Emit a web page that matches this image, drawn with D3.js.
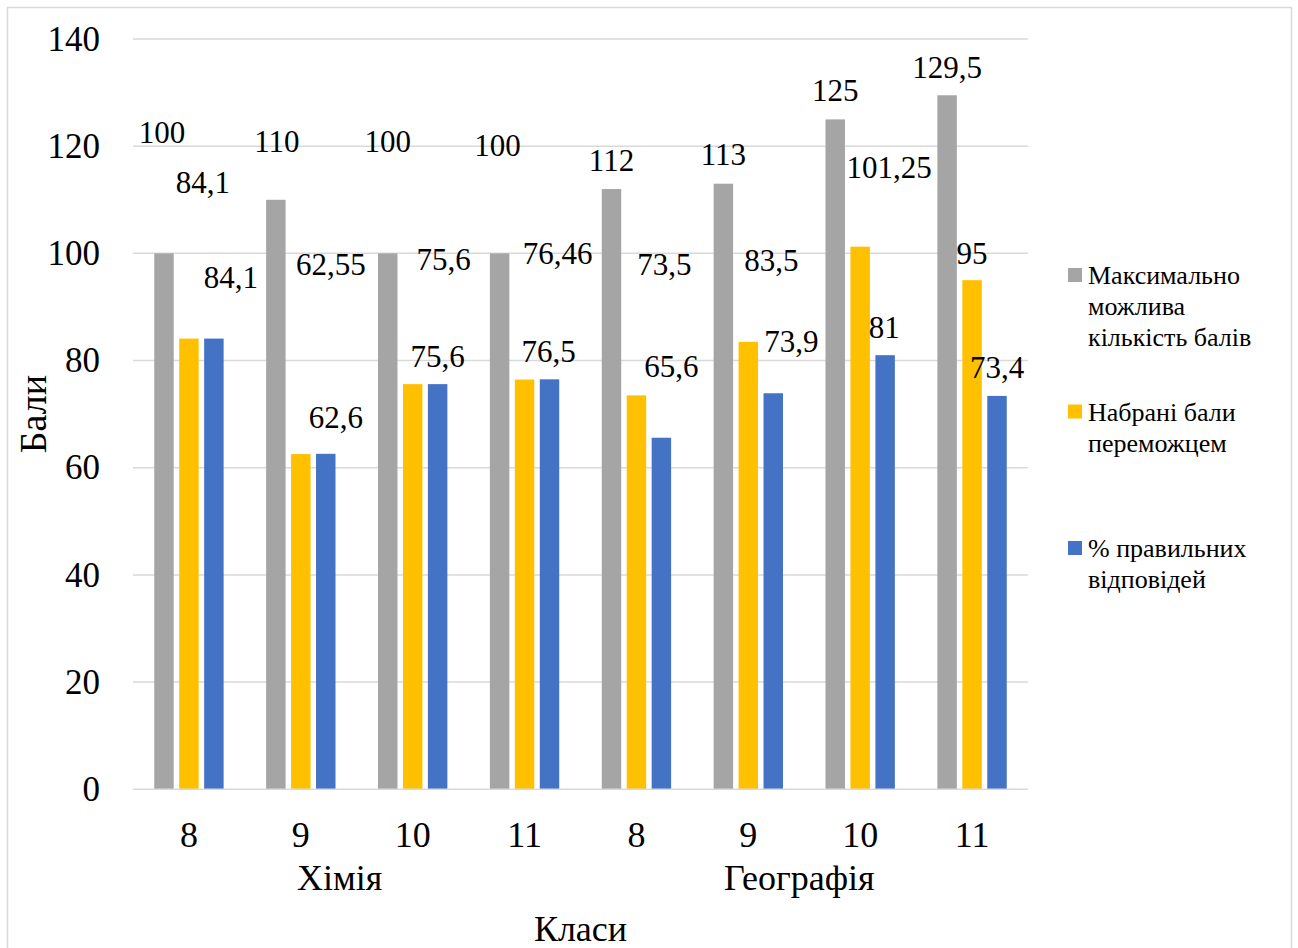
<!DOCTYPE html>
<html>
<head>
<meta charset="utf-8">
<script src="https://cdn.jsdelivr.net/npm/d3@7"></script>
<style>
  html, body { margin: 0; padding: 0; background: #fff; }
  svg { display: block; }
  svg text { font-family: "Liberation Serif", "Times New Roman", serif; }
</style>
</head>
<body>
<svg id="chart" width="1298" height="948"></svg>
<script>
// ---- data ----
const subjects = ["Хімія", "Географія"];
const classes = ["8", "9", "10", "11", "8", "9", "10", "11"];
const seriesNames = ["Максимально можлива кількість балів", "Набрані бали переможцем", "% правильних відповідей"];
const legendLines = [["Максимально", "можлива", "кількість балів"], ["Набрані бали", "переможцем"], ["% правильних", "відповідей"]];
const maxScore = [100, 110, 100, 100, 112, 113, 125, 129.5];
const winnerScore = [84.1, 62.55, 75.6, 76.46, 73.5, 83.5, 101.25, 95];
const correctPct = [84.1, 62.6, 75.6, 76.5, 65.6, 73.9, 81, 73.4];
const yTicks = [0, 20, 40, 60, 80, 100, 120, 140];
const yTitle = "Бали";
const xTitle = "Класи";

// ---- layout / style (not data) ----
const colors = ["#A5A5A5", "#FFC000", "#4472C4"];
// manual data-label displacements (px) relative to bar top centre, as in the original
const labelShift = [
  [[-2, -121], [1, -58], [0, -112], [-2, -108], [0, -29], [0, -29], [0, -29], [0, -28]],
  [[14, -156], [30, -190], [31, -125], [33, -126], [28, -131], [23, -81], [29, -79], [0, -27]],
  [[17, -61], [10, -36], [0, -28], [-1, -28], [10, -71], [18, -52], [-1, -28], [0, -28]]
];
const groupShift = [-17, -5];
const FONT = '"Liberation Serif", "Times New Roman", serif';

const svg = d3.select("#chart");
const plot = { left: 133, right: 1028, top: 39, bottom: 789.3 };

// outer frame
svg.append("rect").attr("x", 7.5).attr("y", 7.5).attr("width", 1284).attr("height", 950)
  .attr("fill", "#fff").attr("stroke", "#D9D9D9").attr("stroke-width", 1.5);

const series = [maxScore, winnerScore, correctPct];
const idx = d3.range(classes.length);

const x0 = d3.scaleBand().domain(idx).range([plot.left, plot.right]).paddingInner(0.38).paddingOuter(0.19);
const x1 = d3.scaleBand().domain(d3.range(series.length)).range([0, x0.bandwidth()]).paddingInner(0.22);
const y = d3.scaleLinear().domain([0, 140]).range([plot.bottom, plot.top]);

// gridlines
svg.append("g").selectAll("line").data(yTicks.filter(t => t > 0)).join("line")
  .attr("x1", plot.left).attr("x2", plot.right)
  .attr("y1", d => y(d)).attr("y2", d => y(d))
  .attr("stroke", "#D9D9D9").attr("stroke-width", 1.5);

// y axis labels
const yAxis = svg.append("g").attr("transform", `translate(${plot.left},0)`)
  .call(d3.axisLeft(y).tickValues(yTicks).tickSize(0).tickPadding(33));
yAxis.attr("font-family", FONT);
yAxis.select(".domain").remove();
yAxis.selectAll("text").attr("font-size", 35).attr("fill", "#000").style("font-family", FONT);

// bars
const groups = svg.append("g").selectAll("g").data(idx).join("g")
  .attr("transform", i => `translate(${x0(i)},0)`);
groups.selectAll("rect").data(i => series.map((s, k) => ({ k, v: s[i] }))).join("rect")
  .attr("x", d => x1(d.k)).attr("width", x1.bandwidth())
  .attr("y", d => y(d.v)).attr("height", d => y(0) - y(d.v))
  .attr("fill", d => colors[d.k]);

// x axis line
svg.append("line").attr("x1", plot.left).attr("x2", plot.right)
  .attr("y1", y(0)).attr("y2", y(0)).attr("stroke", "#D9D9D9").attr("stroke-width", 1.5);

// data labels
const fmt = v => String(v).replace(".", ",");
const labels = [];
series.forEach((s, k) => s.forEach((v, i) => labels.push({ k, i, v })));
svg.append("g").selectAll("text").data(labels).join("text")
  .attr("x", d => x0(d.i) + x1(d.k) + x1.bandwidth() / 2 + labelShift[d.k][d.i][0])
  .attr("y", d => y(d.v) + labelShift[d.k][d.i][1])
  .attr("dy", "0.34em")
  .attr("text-anchor", "middle").attr("font-size", 31).attr("fill", "#000")
  .style("font-family", FONT)
  .text(d => fmt(d.v));

// category axis
const xAxis = svg.append("g").attr("transform", `translate(0,${y(0)})`)
  .call(d3.axisBottom(x0).tickSize(0).tickPadding(32).tickFormat(i => classes[i]));
xAxis.attr("font-family", FONT);
xAxis.select(".domain").remove();
xAxis.selectAll("text").attr("font-size", 36).attr("fill", "#000").style("font-family", FONT);

// subject group labels
const perGroup = classes.length / subjects.length;
svg.append("g").selectAll("text").data(subjects).join("text")
  .attr("x", (s, g) => (x0(g * perGroup) - x0.step() * 0.19 + x0((g + 1) * perGroup - 1) + x0.bandwidth() + x0.step() * 0.19) / 2 + groupShift[g])
  .attr("y", 890)
  .attr("text-anchor", "middle").attr("font-size", 36).attr("fill", "#000")
  .style("font-family", FONT)
  .text(d => d);

// axis titles
svg.append("text").attr("x", (plot.left + plot.right) / 2).attr("y", 941)
  .attr("text-anchor", "middle").attr("font-size", 36).attr("fill", "#000")
  .style("font-family", FONT).text(xTitle);
svg.append("text")
  .attr("transform", `translate(46,${(plot.top + plot.bottom) / 2}) rotate(-90)`)
  .attr("text-anchor", "middle").attr("font-size", 38).attr("fill", "#000")
  .style("font-family", FONT).text(yTitle);

// legend
const leg = svg.append("g").selectAll("g").data(seriesNames).join("g")
  .attr("transform", (d, k) => `translate(1068,${275 + k * 136.5})`);
leg.append("rect").attr("x", 0).attr("y", -7).attr("width", 14).attr("height", 14)
  .attr("fill", (d, k) => colors[k]);
leg.append("text").attr("x", 20).attr("y", 9).attr("font-size", 26).attr("fill", "#000")
  .style("font-family", FONT)
  .selectAll("tspan").data((d, k) => legendLines[k]).join("tspan")
  .attr("x", 20).attr("dy", (d, j) => j === 0 ? 0 : 31).text(d => d);
</script>
</body>
</html>
